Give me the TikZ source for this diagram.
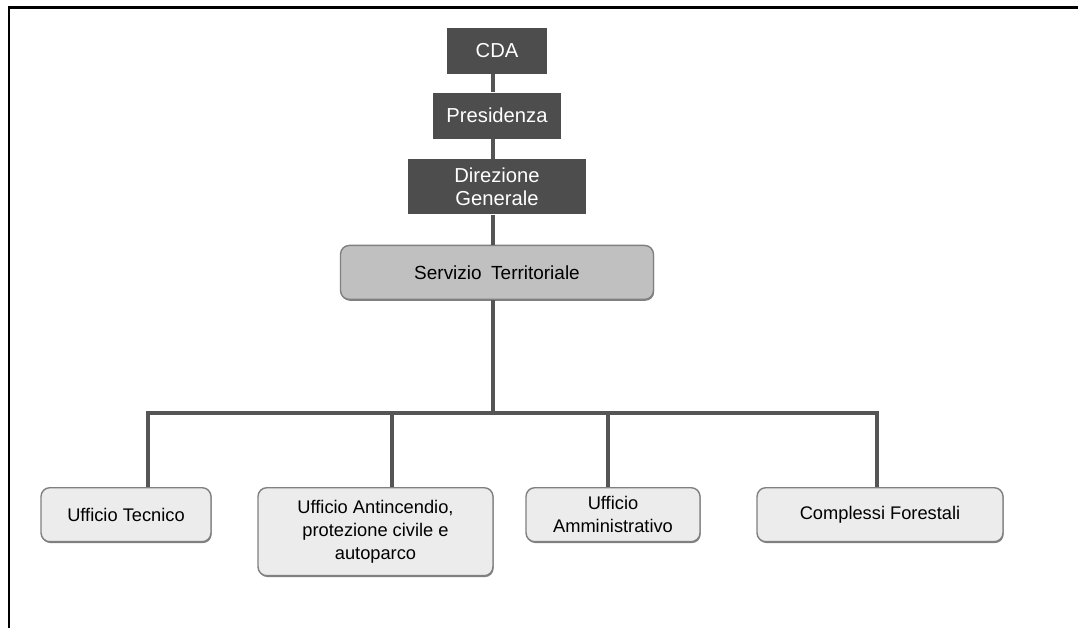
\documentclass[tikz,border=0pt]{standalone}
\usepackage{fontspec}
\setmainfont{Liberation Sans}
\usetikzlibrary{positioning, shadows}
\definecolor{myDark}{RGB}{77, 77, 77}
\definecolor{myLine}{RGB}{85, 85, 85}
\definecolor{myMid}{RGB}{192, 192, 192}
\definecolor{myLight}{RGB}{236, 236, 236}
\definecolor{myEdge}{RGB}{128, 128, 128}

\begin{document}
\begin{tikzpicture}[
    x=0.02cm, y=-0.02cm,
    % Styles
    topbox/.style={
        fill=myDark, text=white, align=center, inner sep=0pt, font=\fontsize{11.5}{13.2}\selectfont
    },
    servbox/.style={
        draw=myEdge, thick, fill=myMid, rounded corners=5pt, align=center, inner sep=0pt,
        minimum width=6.26cm, minimum height=1.08cm, font=\fontsize{10.8}{13}\selectfont,
        drop shadow={shadow xshift=0.4pt, shadow yshift=-0.8pt, fill=myEdge, opacity=1}
    },
    unitbox/.style={
        draw=myEdge, thick, fill=myLight, rounded corners=5pt, align=center, inner sep=0pt,
        minimum height=1.08cm, font=\fontsize{10.4}{13}\selectfont,
        drop shadow={shadow xshift=0.4pt, shadow yshift=-0.8pt, fill=myEdge, opacity=1}
    },
    link/.style={
        draw=myLine, line width=2.3pt
    }
]
    \useasboundingbox (0,0) rectangle (1078,628);

    % --- frame ---
    \draw[line width=1.2pt] (9,628) -- (9,7.5) -- (1078,7.5);

    % --- 1. Top chain ---
    \node[topbox, minimum width=2.0cm, minimum height=0.92cm] (cda) at (497,51) {CDA};
    \node[topbox, minimum width=2.58cm, minimum height=0.92cm, below=0.36cm of cda] (pres) {Presidenza};
    \node[topbox, minimum width=3.56cm, minimum height=1.1cm, below=0.4cm of pres] (dir) {Direzione\\Generale};
    \node[servbox, below=0.6cm of dir] (serv) {Servizio\enspace Territoriale};

    % --- 2. Offices ---
    \node[unitbox, minimum width=3.4cm, anchor=north] (tec) at (126,487) {Ufficio Tecnico};
    \node[unitbox, minimum width=4.7cm, minimum height=1.76cm, anchor=north] (anti) at (375.5,487) {Ufficio Antincendio,\\protezione civile e\\autoparco};
    \node[unitbox, minimum width=3.48cm, anchor=north] (amm) at (613,487) {Ufficio\\Amministrativo};
    \node[unitbox, minimum width=4.92cm, anchor=north] (fore) at (880,487) {Complessi Forestali};

    % --- 3. Connectors ---
    \coordinate (spine) at (493,413);
    \coordinate (d1) at (148,413);
    \coordinate (d2) at (392,413);
    \coordinate (d3) at (608,413);
    \coordinate (d4) at (877,413);

    \foreach \a/\b in {cda/pres, pres/dir, dir/serv}
        \draw[link] (spine |- \a.south) -- (spine |- \b.north);
    \draw[link] (spine |- serv.south) -- (spine);
    \draw[link] (d1 |- tec.north) -- (d1) -- (d4) -- (d4 |- fore.north);
    \draw[link] (d2) -- (d2 |- anti.north);
    \draw[link] (d3) -- (d3 |- amm.north);

\end{tikzpicture}
\end{document}
